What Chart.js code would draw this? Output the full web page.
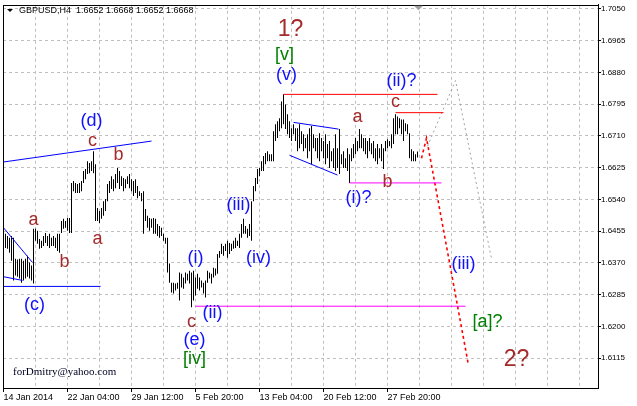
<!DOCTYPE html>
<html><head><meta charset="utf-8">
<script src="https://cdn.jsdelivr.net/npm/chart.js@4.4.1/dist/chart.umd.min.js"></script>
<style>html,body{margin:0;padding:0;background:#fff;overflow:hidden}canvas{display:block}</style>
</head><body>
<canvas id="c" width="637" height="406"></canvas>
<script>
// ---- data (H4 bars, index = bar number from 14 Jan 2014) ----
const firstBar = 1;
const barHigh = [
1.6448,1.6442,1.6437,1.6442,1.6437,1.6381,1.6379,1.6381,1.6381,1.6376,
1.6381,1.6389,1.6371,1.6363,1.6461,1.6461,1.6456,1.6434,1.6429,1.6442,
1.6450,1.6442,1.6448,1.6437,1.6442,1.6437,1.6448,1.6448,1.6482,1.6488,
1.6482,1.6490,1.6490,1.6584,1.6589,1.6584,1.6581,1.6584,1.6589,1.6616,
1.6621,1.6642,1.6637,1.6642,1.6669,1.6634,1.6517,1.6509,1.6517,1.6535,
1.6541,1.6581,1.6589,1.6602,1.6594,1.6608,1.6624,1.6616,1.6602,1.6597,
1.6594,1.6602,1.6608,1.6594,1.6589,1.6594,1.6576,1.6562,1.6557,1.6562,
1.6514,1.6496,1.6490,1.6488,1.6490,1.6488,1.6474,1.6469,1.6464,1.6448,
1.6437,1.6437,1.6368,1.6317,1.6317,1.6315,1.6317,1.6344,1.6341,1.6331,
1.6344,1.6341,1.6349,1.6344,1.6349,1.6331,1.6341,1.6331,1.6323,1.6317,
1.6323,1.6349,1.6344,1.6341,1.6357,1.6355,1.6394,1.6402,1.6421,1.6415,
1.6421,1.6429,1.6423,1.6421,1.6429,1.6437,1.6429,1.6448,1.6474,1.6488,
1.6469,1.6461,1.6474,1.6535,1.6576,1.6597,1.6621,1.6624,1.6642,1.6656,
1.6664,1.6669,1.6661,1.6661,1.6722,1.6741,1.6749,1.6757,1.6802,1.6821,
1.6794,1.6768,1.6749,1.6730,1.6741,1.6730,1.6730,1.6741,1.6722,1.6714,
1.6704,1.6714,1.6730,1.6736,1.6714,1.6704,1.6704,1.6717,1.6704,1.6696,
1.6714,1.6688,1.6696,1.6669,1.6677,1.6714,1.6677,1.6728,1.6661,1.6669,
1.6650,1.6677,1.6661,1.6677,1.6688,1.6704,1.6696,1.6728,1.6714,1.6704,
1.6704,1.6696,1.6704,1.6690,1.6696,1.6677,1.6688,1.6677,1.6688,1.6677,
1.6696,1.6701,1.6696,1.6714,1.6757,1.6768,1.6762,1.6757,1.6754,1.6754,
1.6744,1.6741,1.6717,1.6674,1.6669,1.6661,1.6668];
const barLow = [
1.6410,1.6408,1.6397,1.6376,1.6323,1.6336,1.6333,1.6328,1.6317,1.6323,
1.6328,1.6333,1.6328,1.6323,1.6315,1.6429,1.6421,1.6408,1.6410,1.6415,
1.6423,1.6415,1.6410,1.6415,1.6415,1.6410,1.6402,1.6397,1.6450,1.6461,
1.6464,1.6456,1.6450,1.6450,1.6562,1.6557,1.6557,1.6557,1.6562,1.6584,
1.6594,1.6608,1.6610,1.6616,1.6610,1.6482,1.6482,1.6477,1.6488,1.6496,
1.6509,1.6535,1.6557,1.6568,1.6562,1.6570,1.6584,1.6568,1.6576,1.6562,
1.6570,1.6581,1.6570,1.6562,1.6549,1.6557,1.6543,1.6549,1.6535,1.6448,
1.6482,1.6464,1.6456,1.6464,1.6448,1.6448,1.6442,1.6437,1.6442,1.6429,
1.6421,1.6344,1.6317,1.6291,1.6288,1.6296,1.6301,1.6269,1.6304,1.6301,
1.6315,1.6323,1.6315,1.6251,1.6269,1.6283,1.6301,1.6296,1.6304,1.6288,
1.6277,1.6317,1.6328,1.6315,1.6331,1.6336,1.6341,1.6384,1.6394,1.6389,
1.6402,1.6384,1.6394,1.6402,1.6408,1.6410,1.6415,1.6410,1.6437,1.6448,
1.6448,1.6437,1.6442,1.6429,1.6535,1.6562,1.6581,1.6602,1.6616,1.6616,
1.6634,1.6642,1.6642,1.6642,1.6642,1.6696,1.6704,1.6722,1.6730,1.6741,
1.6728,1.6714,1.6704,1.6696,1.6714,1.6696,1.6669,1.6677,1.6688,1.6669,
1.6677,1.6650,1.6669,1.6634,1.6677,1.6669,1.6650,1.6642,1.6669,1.6650,
1.6634,1.6650,1.6624,1.6642,1.6624,1.6616,1.6624,1.6608,1.6634,1.6624,
1.6624,1.6616,1.6584,1.6642,1.6650,1.6661,1.6669,1.6677,1.6677,1.6669,
1.6661,1.6650,1.6669,1.6661,1.6650,1.6642,1.6634,1.6650,1.6642,1.6621,
1.6669,1.6677,1.6682,1.6677,1.6688,1.6714,1.6714,1.6730,1.6714,1.6696,
1.6722,1.6714,1.6650,1.6642,1.6642,1.6642,1.6652];
const timeLabels = ['14 Jan 2014','22 Jan 04:00','29 Jan 12:00','5 Feb 20:00','13 Feb 04:00','20 Feb 12:00','27 Feb 20:00'];
const priceTicks = [1.6115,1.6200,1.6285,1.6370,1.6455,1.6540,1.6625,1.6710,1.6795,1.6880,1.6965,1.7050];
const symbol = 'GBPUSD,H4';
const lastQuote = [1.6652, 1.6668, 1.6652, 1.6668];
const author = 'forDmitry@yahoo.com';

// drawn objects: [barIndex, price] pairs
const trendD      = [[0,1.6640],[74,1.6696]];
const wedgeUpperL = [[0,1.6464],[14.5,1.6371]];
const wedgeLowerL = [[0,1.6333],[9.5,1.6323]];
const levelC      = [[0,1.6307],[48.5,1.6307]];
const flagUpper   = [[145,1.6746],[167.5,1.6728]];
const flagLower   = [[143,1.6658],[167,1.6605]];
const levelTop    = [[140,1.6821],[217,1.6821]];
const levelC2     = [[196,1.6772],[220,1.6772]];
const levelI      = [[173,1.6584],[219,1.6584]];
const levelLow    = [[96,1.6254],[231,1.6254]];
const pathRed     = [[209,1.6650],[211.5,1.6704],[232.5,1.6096]];
const pathGray    = [[212,1.6682],[226,1.6858],[244,1.6381]];

// wave labels
const waveText = ['(d)','c','b','a','a','b','(c)','(i)','(ii)','c','(e)','[iv]','(iii)','(iv)','1?','[v]','(v)','a','(i)?','b','(ii)?','c','(iii)','[a]?','2?'];
const waveX    = [44,44.5,57.5,15,47,30.5,15.5,96,104.5,94,95.5,95.5,117.5,127.5,143.5,140.5,141.5,177,177.5,192,199,196,230,242,256.5];
const waveY    = [1.6749,1.6696,1.6658,1.6485,1.6434,1.6373,1.6256,1.6384,1.6237,1.6211,1.6163,1.6112,1.6525,1.6384,1.6994,1.6927,1.6874,1.6759,1.6544,1.6586,1.6858,1.6800,1.6368,1.6211,1.6112];

// ---- chart ----
const FONT = '"Liberation Sans", Arial, sans-serif';
Chart.defaults.font.family = FONT;

const bars = barHigh.map((h, k) => ({x: firstBar + k, y: [barLow[k], h]}));
const pts = arr => arr.map(p => ({x: p[0], y: p[1]}));
function lineDs(arr, color, width, dash) {
  return {type: 'line', data: pts(arr), borderColor: color, borderWidth: width,
    borderDash: dash || [], pointRadius: 0, fill: false, tension: 0, order: 0};
}

function styleFor(t) {
  if (/^\d/.test(t)) return {color: '#a52a2a', size: 23};
  if (t[0] === '(') return {color: '#1010ff', size: 18};
  if (t[0] === '[') return {color: '#008000', size: 18};
  return {color: '#a52a2a', size: 18};
}

const decor = {
  id: 'decor',
  afterDatasetsDraw(chart) {
    const {ctx, chartArea: a, scales: {x, y}} = chart;
    ctx.save();
    ctx.textAlign = 'center';
    ctx.textBaseline = 'middle';
    waveText.forEach((t, k) => {
      const s = styleFor(t);
      ctx.font = s.size + 'px ' + FONT;
      ctx.fillStyle = s.color;
      ctx.fillText(t, x.getPixelForValue(waveX[k]), y.getPixelForValue(waveY[k]));
    });
    ctx.strokeStyle = '#000';
    ctx.lineWidth = 1;
    ctx.strokeRect(Math.round(a.left) + 0.5, Math.round(a.top) + 0.5,
      Math.round(a.right - a.left), Math.round(a.bottom - a.top));
    ctx.fillStyle = '#000';
    ctx.beginPath();
    ctx.moveTo(7, 9); ctx.lineTo(13, 9); ctx.lineTo(10, 12); ctx.closePath(); ctx.fill();
    ctx.font = '9px ' + FONT;
    ctx.textAlign = 'left';
    ctx.fillText(symbol + '  ' + lastQuote.map(v => v.toFixed(4)).join(' '), 19, 11);
    ctx.font = '11px "Liberation Serif", "Times New Roman", serif';
    ctx.fillStyle = '#000020';
    ctx.fillText(author, 13, 372);
    const sx = Math.round(x.getPixelForValue(firstBar + barHigh.length - 1)) + 0.5;
    ctx.fillStyle = '#a0a0a0';
    ctx.beginPath();
    ctx.moveTo(sx - 4.5, a.top + 1); ctx.lineTo(sx + 4.5, a.top + 1); ctx.lineTo(sx, a.top + 5.5);
    ctx.closePath(); ctx.fill();
    ctx.restore();
  }
};

const labeled = v => v % 32 === 0 && v / 32 < timeLabels.length;

new Chart(document.getElementById('c'), {
  data: {
    datasets: [
      lineDs(trendD, '#0000ff', 1),
      lineDs(wedgeUpperL, '#0000ff', 1),
      lineDs(wedgeLowerL, '#0000ff', 1),
      lineDs(levelC, '#0000ff', 1),
      lineDs(flagUpper, '#0000ff', 1),
      lineDs(flagLower, '#0000ff', 1),
      lineDs(levelTop, '#ff0000', 1),
      lineDs(levelC2, '#ff0000', 1),
      lineDs(levelI, '#ff00ff', 1),
      lineDs(levelLow, '#ff00ff', 1),
      lineDs(pathGray, '#a0a0a0', 1, [2, 3]),
      lineDs(pathRed, '#ff0000', 1.6, [3, 3]),
      {type: 'bar', data: bars, backgroundColor: '#000', borderWidth: 0,
       barThickness: 1, inflateAmount: 0, grouped: false, order: 1}
    ]
  },
  options: {
    responsive: false, animation: false, devicePixelRatio: 1,
    layout: {padding: {left: 3, top: 3, right: 0, bottom: 0}},
    plugins: {legend: {display: false}, tooltip: {enabled: false}},
    scales: {
      x: {
        type: 'linear', min: -0.25, max: 297.25, offset: false,
        afterBuildTicks: s => { const t = []; for (let v = 0; v <= 288; v += 16) t.push({value: v}); s.ticks = t; },
        afterFit: s => { s.height = 18; },
        grid: {offset: false, color: '#c0c0c0', lineWidth: 1, drawTicks: true, tickLength: 4,
               tickColor: c => (c.tick && labeled(c.tick.value)) ? '#000' : 'rgba(0,0,0,0)',
               tickBorderDash: []},
        border: {display: true, color: '#000', width: 1, dash: [3, 3]},
        ticks: {autoSkip: false, maxRotation: 0, minRotation: 0, align: 'start', padding: 0,
                color: '#000', font: {size: 9, family: FONT},
                callback: v => labeled(v) ? timeLabels[v / 32] : ''}
      },
      y: {
        type: 'linear', position: 'right', min: 1.60351, max: 1.70607,
        afterBuildTicks: s => { s.ticks = priceTicks.map(v => ({value: v})); },
        afterFit: s => { s.width = 39; },
        grid: {color: '#c0c0c0', lineWidth: 1, drawTicks: true, tickLength: 3,
               tickColor: '#000', tickBorderDash: []},
        border: {display: true, color: '#000', width: 1, dash: [3, 3]},
        ticks: {padding: 0, color: '#000', font: {size: 8, family: FONT},
                callback: v => Number(v).toFixed(4)}
      }
    }
  },
  plugins: [decor]
});
</script>
</body></html>
